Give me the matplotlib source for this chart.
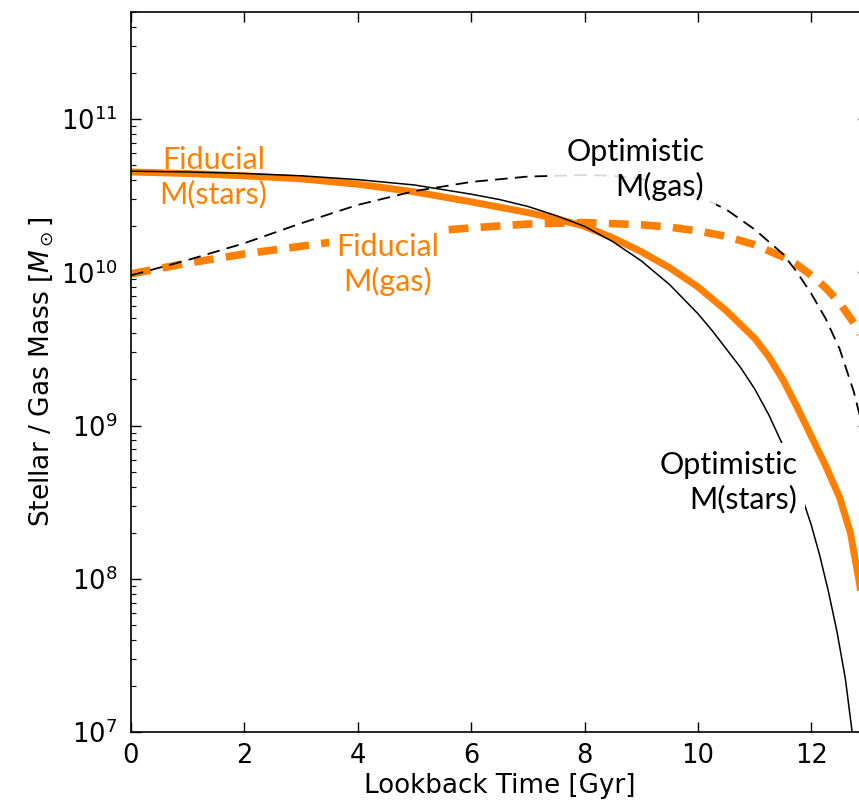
import numpy as np
import matplotlib
matplotlib.use("Agg")
import matplotlib.pyplot as plt

plt.rcParams["font.family"] = ["DejaVu Sans"]
plt.rcParams["mathtext.fontset"] = "dejavusans"

# Lookback time [Gyr] and log10 mass values
t_opt_stars = [0, 1, 2, 3, 4, 5, 6, 6.5, 7, 7.5, 8, 8.5, 9, 9.5, 10, 10.25, 10.5, 10.75, 11, 11.25,
               11.5, 11.75, 12, 12.15, 12.3, 12.45, 12.6, 12.72, 12.8]
log_opt_stars = [10.66, 10.655, 10.645, 10.63, 10.605, 10.57, 10.51, 10.475, 10.43, 10.37, 10.30, 10.20,
                 10.075, 9.92, 9.73, 9.62, 9.50, 9.38, 9.24, 9.07, 8.87, 8.63, 8.35, 8.15, 7.92, 7.66,
                 7.35, 7.0, 6.7]

t_fid_stars = [0, 1, 2, 3, 4, 5, 6, 7, 7.5, 8, 8.5, 9, 9.5, 10, 10.5, 11, 11.25, 11.5, 11.75, 12,
               12.25, 12.5, 12.69, 12.85, 13]
log_fid_stars = [10.655, 10.645, 10.63, 10.61, 10.575, 10.525, 10.46, 10.39, 10.35, 10.30, 10.225,
                 10.135, 10.03, 9.905, 9.75, 9.57, 9.45, 9.30, 9.12, 8.93, 8.74, 8.53, 8.30, 7.97, 7.55]

t_opt_gas = [0, 0.5, 1, 1.5, 2, 3, 4, 5, 6, 7, 8, 8.5, 9, 9.5, 10, 10.5, 11, 11.25, 11.5, 11.75,
             12, 12.25, 12.5, 12.75, 13]
log_opt_gas = [9.98, 10.03, 10.08, 10.135, 10.19, 10.32, 10.44, 10.53, 10.59, 10.625, 10.635, 10.63,
               10.61, 10.565, 10.5, 10.41, 10.28, 10.2, 10.12, 10.0, 9.86, 9.7, 9.5, 9.22, 8.85]

t_fid_gas = [0, 1, 2, 3, 4, 5, 6, 7, 8, 9, 9.5, 10, 10.5, 11, 11.5, 11.75, 12, 12.25, 12.5, 12.75, 13]
log_fid_gas = [9.99, 10.06, 10.12, 10.17, 10.22, 10.26, 10.29, 10.315, 10.325, 10.31, 10.295, 10.27,
               10.235, 10.18, 10.1, 10.05, 9.98, 9.9, 9.8, 9.67, 9.5]

x_ticks = [0, 2, 4, 6, 8, 10, 12]
ORANGE = "#ff8000"

W, H = 859, 801
fig = plt.figure(figsize=(W / 100, H / 100), dpi=100)
# axes extends past the right edge of the figure (cropped like the reference)
left, right, bottom, top = 131, 868, 732, 12
ax = fig.add_axes([left / W, 1 - bottom / H, (right - left) / W, (bottom - top) / H])

ax.plot(t_opt_stars, 10 ** np.array(log_opt_stars), color="black", lw=1.1, zorder=3)
ax.plot(t_fid_stars, 10 ** np.array(log_fid_stars), color=ORANGE, lw=5, zorder=2)
ax.plot(t_opt_gas, 10 ** np.array(log_opt_gas), color="black", lw=1.3, dashes=(7, 4), zorder=3)
ax.plot(t_fid_gas, 10 ** np.array(log_fid_gas), color=ORANGE, lw=5.5, dashes=(2.6, 1.6), zorder=2)

ax.set_yscale("log")
ax.set_xlim(0, 13)
ax.set_ylim(1e7, 5e11)
ax.set_xticks(x_ticks)
ax.tick_params(which="both", direction="in", top=True, right=True, labelsize=18.5, pad=10)
ax.tick_params(axis="x", pad=8)
ax.tick_params(which="major", length=7, width=1)
ax.tick_params(which="minor", length=3.5, width=0.8)
ax.xaxis.set_minor_locator(matplotlib.ticker.NullLocator())
for s in ax.spines.values():
    s.set_linewidth(1.2)

ax.set_xlabel("Lookback Time [Gyr]", fontsize=18.8, labelpad=3)
ax.set_ylabel(r"Stellar / Gas Mass [$M_\odot$]", fontsize=19, labelpad=3)

afont = dict(family=["Lato", "DejaVu Sans"], fontsize=22, linespacing=1.25)
ax.text(1.45, 10 ** 10.62, "Fiducial\nM(stars)", color=ORANGE, ha="center", va="center",
        multialignment="center", zorder=5, **afont)
ax.text(10.11, 10 ** 10.67, "Optimistic\nM(gas)", color="black", ha="right", va="center",
        multialignment="right", zorder=5,
        bbox=dict(boxstyle="square,pad=0.4", fc="white", ec="none", alpha=0.85), **afont)
ax.text(4.53, 10 ** 10.05, "Fiducial\nM(gas)", color=ORANGE, ha="center", va="center",
        multialignment="center", zorder=5,
        bbox=dict(boxstyle="square,pad=0.25", fc="white", ec="none"), **afont)
ax.text(11.75, 10 ** 8.63, "Optimistic\nM(stars)", color="black", ha="right", va="center",
        multialignment="right", zorder=5,
        bbox=dict(boxstyle="square,pad=0.25", fc="white", ec="none"), **afont)

fig.savefig("out.png", dpi=100)
